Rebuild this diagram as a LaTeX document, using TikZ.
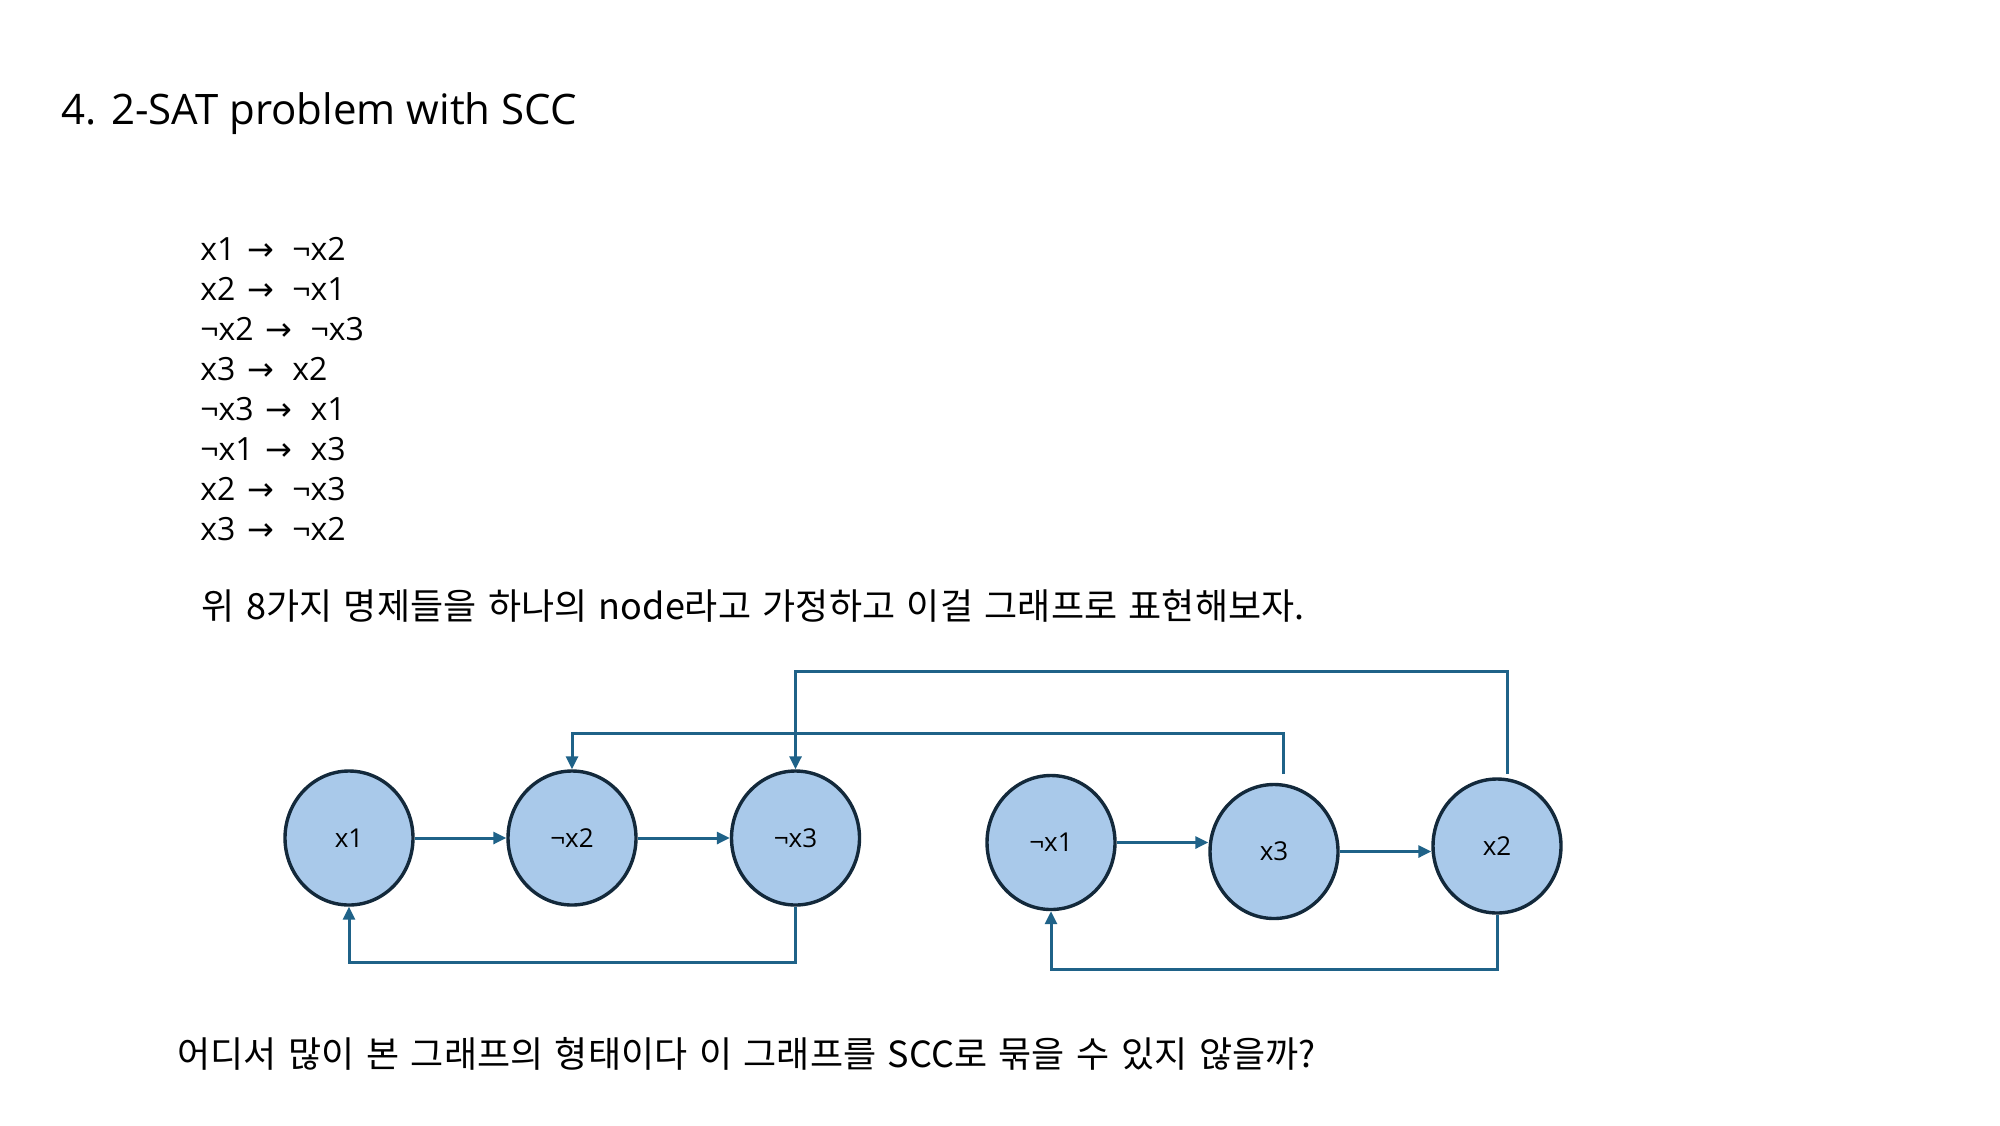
\documentclass[tikz,border=0pt]{standalone}
\usepackage{fontspec}
\setmainfont{Open Sans}
\newfontfamily\kr{Noto Sans CJK KR}
\newfontfamily\symfont{DejaVu Sans}
\usetikzlibrary{arrows.meta,calc,shapes.geometric}
\definecolor{nodefill}{HTML}{A9C9EA}
\definecolor{nodeline}{HTML}{13293B}
\definecolor{connc}{HTML}{1F6288}
\newcommand{\impl}{\hspace{6pt}{\symfont →}\hspace{9pt}}
\newcommand{\krwide}{\spaceskip=5.8pt\relax}
\tikzset{
  vert/.style={ellipse, draw=nodeline, line width=1.7pt, fill=nodefill, minimum width=64pt, minimum height=67pt, inner sep=0pt, font=\fontsize{13pt}{15pt}\selectfont},
  conn/.style={draw=connc, line width=1.5pt, -{Triangle[length=6.5pt,width=6pt]}},
  txt/.style={anchor=base west, inner sep=0pt, font=\fontsize{16pt}{19pt}\selectfont},
  krtxt/.style={anchor=base west, inner sep=0pt, font=\kr\fontsize{18pt}{21pt}\selectfont},
}
\begin{document}
\begin{tikzpicture}[x=0.5pt,y=-0.5pt]
\useasboundingbox (0,0) rectangle (2000,1125);
\node[anchor=base west, inner sep=0pt, font=\fontsize{21pt}{25pt}\selectfont] (title) at (61,124) {4. 2-SAT problem with SCC};
\node[txt] (l1) at (200,260.7) {x1\impl¬x2};
\node[txt] (l2) at (200,300.7) {x2\impl¬x1};
\node[txt] (l3) at (200,340.7) {¬x2\impl¬x3};
\node[txt] (l4) at (200,380.7) {x3\impl x2};
\node[txt] (l5) at (200,420.7) {¬x3\impl x1};
\node[txt] (l6) at (200,460.7) {¬x1\impl x3};
\node[txt] (l7) at (200,500.7) {x2\impl¬x3};
\node[txt] (l8) at (200,540.7) {x3\impl¬x2};
\node[krtxt] (k1) at (201,619) {\krwide 위 8가지 명제들을 하나의 node라고 가정하고 이걸 그래프로 표현해보자.};
\node[krtxt] (k2) at (177,1067) {\krwide 어디서 많이 본 그래프의 형태이다 이 그래프를 SCC로 묶을 수 있지 않을까?};

\node[vert] (x1) at (349,838) {x1};
\node[vert] (nx2) at (572,838) {¬x2};
\node[vert] (nx3) at (795.5,838) {¬x3};
\node[vert] (nx1) at (1051,842.5) {¬x1};
\node[vert] (x3) at (1274,851.5) {x3};
\node[vert] (x2) at (1497,846) {x2};

\coordinate (x3top) at (1283,774);
\coordinate (x2top) at (1507,774);
\coordinate (bendA) at (572,733);
\coordinate (bendB) at (795.5,671);
\coordinate (lowA) at (0,962);
\coordinate (lowB) at (0,969);

\draw[conn] (x1) -- (nx2);
\draw[conn] (nx2) -- (nx3);
\draw[conn] (nx3.south) -- (nx3.south |- lowA) -| (x1.south);
\draw[conn] (nx1.east) -- (nx1.east -| x3.west);
\draw[conn] (x3.east) -- (x3.east -| x2.west);
\draw[conn] (x2.south) -- (x2.south |- lowB) -| (nx1.south);
\draw[conn] (x3top) |- (bendA) -- (nx2.north);
\draw[conn] (x2top) |- (bendB) -- (nx3.north);
\end{tikzpicture}
\end{document}
